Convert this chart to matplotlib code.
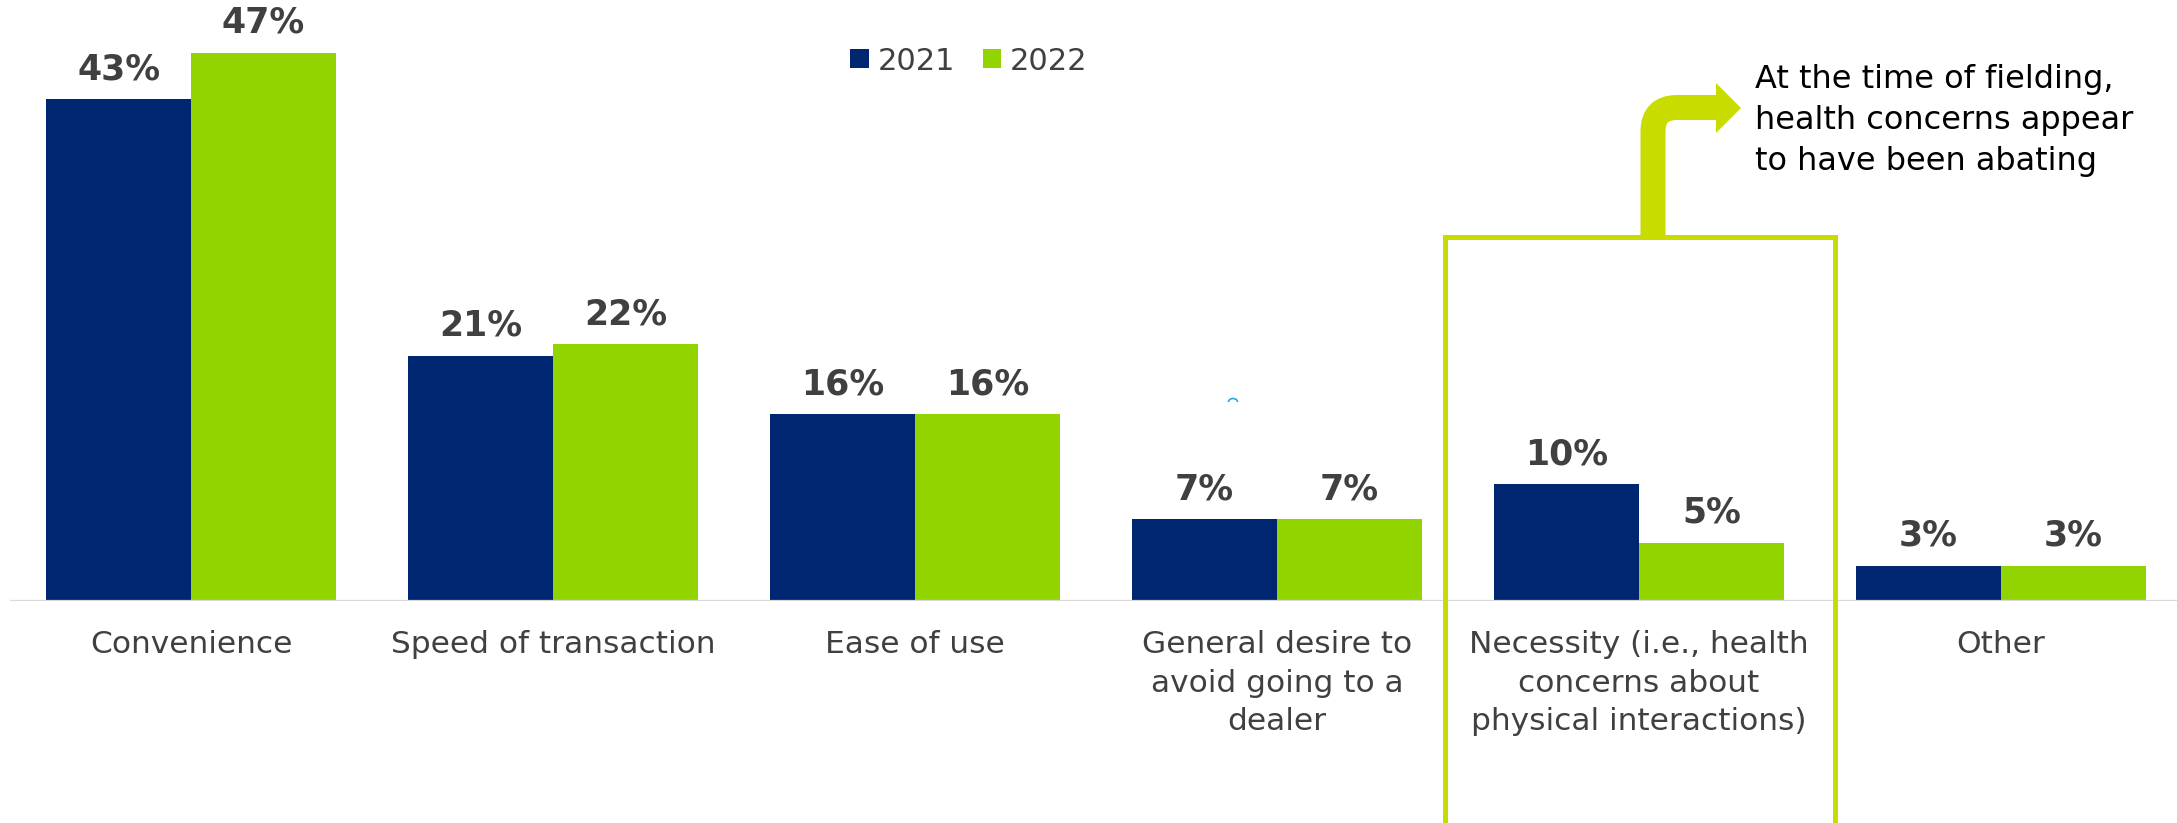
import numpy as np
import matplotlib
matplotlib.use("Agg")
import matplotlib.pyplot as plt
from matplotlib.patches import Rectangle, Polygon, PathPatch, Arc
from matplotlib.path import Path
from matplotlib.transforms import Affine2D

categories = [
    "Convenience",
    "Speed of transaction",
    "Ease of use",
    "General desire to\navoid going to a\ndealer",
    "Necessity (i.e., health\nconcerns about\nphysical interactions)",
    "Other",
]
values_2021 = [43, 21, 16, 7, 10, 3]
values_2022 = [47, 22, 16, 7, 5, 3]
series_names = ["2021", "2022"]
note = "At the time of fielding,\nhealth concerns appear\nto have been abating"

NAVY = "#002672"
GREEN = "#92d400"
LIME = "#c8dc00"
GREY_TEXT = "#404040"

W, H = 2177, 823
fig = plt.figure(figsize=(W / 100, H / 100), dpi=100)
ax = fig.add_axes([10 / W, (H - 601) / H, 1 - 10 / W, 601 / H])

x = np.arange(len(categories))
bw = 0.4
bars1 = ax.bar(x - bw / 2, values_2021, bw, color=NAVY, label=series_names[0])
bars2 = ax.bar(x + bw / 2, values_2022, bw, color=GREEN, label=series_names[1])

for bars in (bars1, bars2):
    for b in bars:
        ax.annotate(f"{b.get_height():.0f}%",
                    (b.get_x() + b.get_width() / 2, b.get_height()),
                    xytext=(0, 14.5), textcoords="offset points",
                    ha="center", va="baseline", fontsize=25,
                    fontweight="bold", color=GREY_TEXT)

ax.set_xlim(-0.5, 5.486)
ax.set_ylim(0, 51.5)
ax.axhline(0, color="#d9d9d9", lw=1.6, zorder=3)
for s in ax.spines.values():
    s.set_visible(False)
ax.set_yticks([])
ax.set_xticks(x)
ax.set_xticklabels(categories, fontsize=22.5, color=GREY_TEXT, linespacing=1.42)
ax.tick_params(axis="x", length=0, pad=21)

leg = fig.legend(loc="center", bbox_to_anchor=(969 / W, 1 - 61 / H),
                 ncol=2, frameon=False, fontsize=22, handlelength=0.6,
                 handleheight=0.6, handletextpad=0.3, columnspacing=0.9,
                 borderpad=0)
for t in leg.get_texts():
    t.set_color(GREY_TEXT)

# highlight box around the "Necessity" group
box_left, box_right, box_top = 3.464, 4.541, 31.2
ax.add_patch(Rectangle((box_left, -40), box_right - box_left, box_top + 40,
                       fill=False, ec=LIME, lw=3.6, clip_on=False, zorder=4))

# bent arrow pointing to the note, drawn in pixel units from the top-left
px = Affine2D().scale(1 / 100, -1 / 100).translate(0, H / 100) + fig.dpi_scale_trans
sx, hy, r = 1653, 107.5, 24
shaft = Path([(sx, 236), (sx, hy + r), (sx, hy), (sx + r, hy), (1717, hy)],
             [Path.MOVETO, Path.LINETO, Path.CURVE3, Path.CURVE3, Path.LINETO])
fig.patches.append(PathPatch(shaft, transform=px, fill=False, ec=LIME,
                             lw=18, capstyle="butt", joinstyle="miter"))
fig.patches.append(Polygon([(1716, 83), (1741, 108), (1716, 133)],
                           closed=True, transform=px, fc=LIME, ec="none"))

fig.text(1755 / W, 1 - 64 / H, note, ha="left", va="top", fontsize=23,
         color="black", linespacing=1.42)

fig.patches.append(Arc((1233, 402), 9, 7, theta1=180, theta2=360, transform=px,
                       color="#2aa7e0", lw=1.2))

fig.savefig("out.png", dpi=100)
